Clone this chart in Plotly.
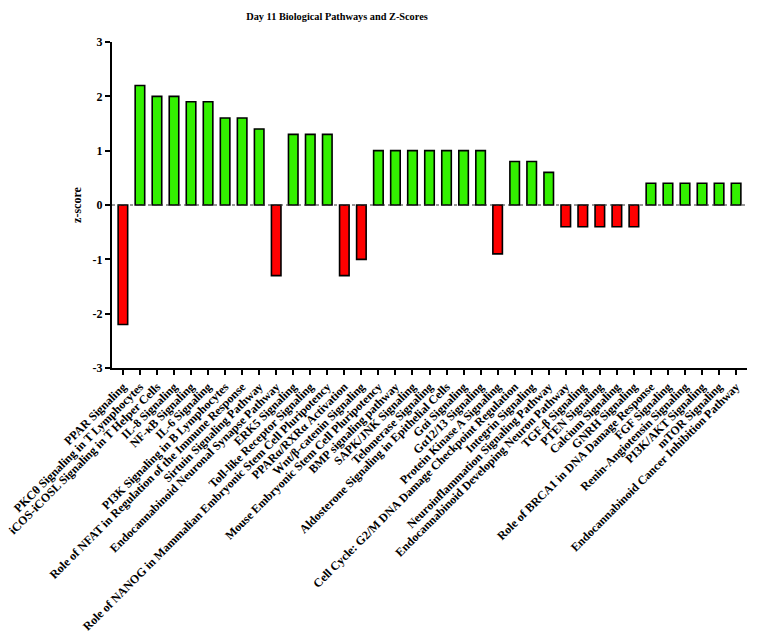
import plotly.graph_objects as go

pathways = [
    "PPAR Signaling",
    "PKCθ Signaling in T Lymphocytes",
    "iCOS-iCOSL Signaling in T Helper Cells",
    "IL-8 Signaling",
    "NF-κB Signaling",
    "IL-6 Signaling",
    "PI3K Signaling in B Lymphocytes",
    "Role of NFAT in Regulation of the Immune Response",
    "Sirtuin Signaling Pathway",
    "Endocannabinoid Neuronal Synapse Pathway",
    "ERK5 Signaling",
    "Toll-like Receptor Signaling",
    "Role of NANOG in Mammalian Embryonic Stem Cell Pluripotency",
    "PPARα/RXRα Activation",
    "Wnt/β-catenin Signaling",
    "Mouse Embryonic Stem Cell Pluripotency",
    "BMP signaling pathway",
    "SAPK/JNK Signaling",
    "Telomerase Signaling",
    "Aldosterone Signaling in Epithelial Cells",
    "Gαi Signaling",
    "Gα12/13 Signaling",
    "Protein Kinase A Signaling",
    "Cell Cycle: G2/M DNA Damage Checkpoint Regulation",
    "Integrin Signaling",
    "Neuroinflammation Signaling Pathway",
    "Endocannabinoid Developing Neuron Pathway",
    "TGF-β Signaling",
    "PTEN Signaling",
    "Calcium Signaling",
    "GNRH Signaling",
    "Role of BRCA1 in DNA Damage Response",
    "FGF Signaling",
    "Renin-Angiotensin Signaling",
    "PI3K/AKT Signaling",
    "mTOR Signaling",
    "Endocannabinoid Cancer Inhibition Pathway",
]

z_scores = [
    -2.2, 2.2, 2.0, 2.0, 1.9, 1.9, 1.6, 1.6, 1.4, -1.3,
    1.3, 1.3, 1.3, -1.3, -1.0, 1.0, 1.0, 1.0, 1.0, 1.0,
    1.0, 1.0, -0.9, 0.8, 0.8, 0.6, -0.4, -0.4, -0.4, -0.4,
    -0.4, 0.4, 0.4, 0.4, 0.4, 0.4, 0.4,
]

y_ticks = [-3, -2, -1, 0, 1, 2, 3]
y_tick_labels = ["-3", "-2", "-1", "0", "1", "2", "3"]

GREEN = "#33f000"
RED = "#ff0000"
colors = [GREEN if v > 0 else RED for v in z_scores]

FONT = "Liberation Serif"
OFF = 8  # page body margin offset

fig = go.Figure(
    go.Bar(
        x=pathways,
        y=z_scores,
        marker=dict(color=colors, line=dict(color="black", width=1.6)),
        width=0.56,
    )
)

fig.add_shape(
    type="line", xref="paper", yref="y", x0=0, x1=1, y0=0, y1=0,
    line=dict(color="#333333", width=1, dash="dot"),
)

fig.update_layout(
    width=758,
    height=634,
    plot_bgcolor="white",
    paper_bgcolor="white",
    margin=dict(l=112 - OFF, r=11 + OFF, t=42 - OFF, b=266 + OFF),
    showlegend=False,
    font=dict(family=FONT, color="black", size=12),
    title=dict(
        text="<b>Day 11 Biological Pathways and Z-Scores</b>",
        x=(337 - OFF) / 758, xref="container", xanchor="center",
        y=1 - (16 - OFF) / 634, yref="container", yanchor="middle",
        font=dict(family=FONT, size=10.3, color="black"),
    ),
)

fig.update_xaxes(
    type="category",
    range=[-0.64, 36.64],
    tickangle=-45,
    tickfont=dict(family=FONT, size=12, color="black", weight="bold"),
    showline=True, linecolor="black", linewidth=2,
    ticks="outside", tickcolor="black", tickwidth=2, ticklen=5,
    showgrid=False, automargin=False, zeroline=False,
)

fig.update_yaxes(
    range=[-3, 3],
    tickvals=y_ticks,
    ticktext=y_tick_labels,
    tickfont=dict(family=FONT, size=12, color="black", weight="bold"),
    showline=True, linecolor="black", linewidth=2,
    ticks="outside", tickcolor="black", tickwidth=2, ticklen=5,
    showgrid=False, zeroline=False, automargin=False,
    title=dict(text="<b>z-score</b>", font=dict(family=FONT, size=12, color="black"), standoff=8),
)

fig.write_html("out.html")
